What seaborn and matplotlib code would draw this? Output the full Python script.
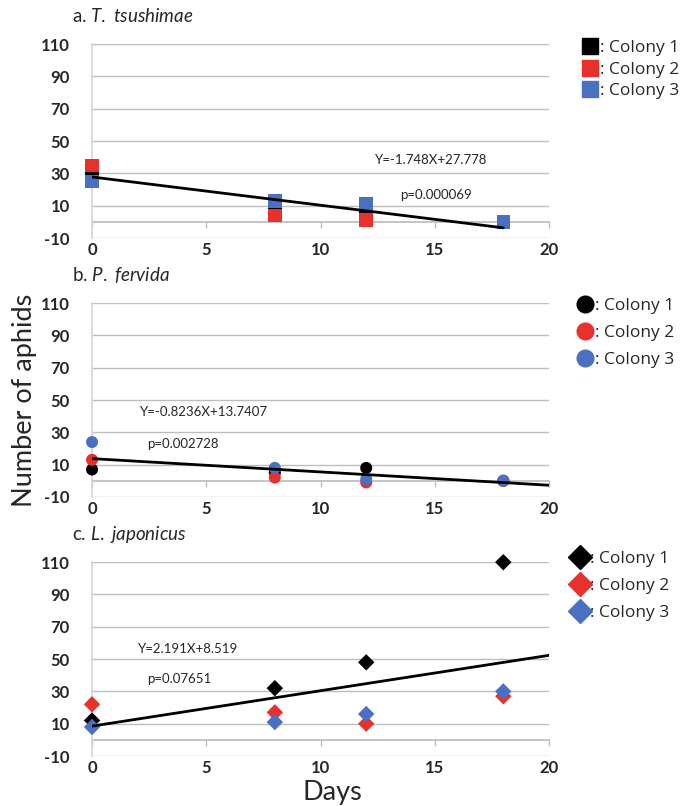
import numpy as np
import pandas as pd
import matplotlib.pyplot as plt
import seaborn as sns
from matplotlib.lines import Line2D

# data
days = [0, 8, 12, 18]
colonies = ['Colony 1', 'Colony 2', 'Colony 3']
colors = ['#000000', '#e8302c', '#4a70c2']

# a. T. tsushimae
tsu_c1 = [31, 9, 5, 0]
tsu_c2 = [35, 4, 1, 0]
tsu_c3 = [25, 13, 11, 0]
# b. P. fervida
fer_c1 = [7, 5, 8, 0]
fer_c2 = [13, 2, -1, 0]
fer_c3 = [24, 8, 1, 0]
# c. L. japonicus
jap_c1 = [12, 32, 48, 110]
jap_c2 = [22, 17, 10, 27]
jap_c3 = [8, 11, 16, 30]

panel_letters = ['a.', 'b.', 'c.']
species = ['T.\\ tsushimae', 'P.\\ fervida', 'L.\\ japonicus']
slopes = [-1.748, -0.8236, 2.191]
intercepts = [27.778, 13.7407, 8.519]
line_end = [18, 20, 20]
equations = ['Y=-1.748X+27.778', 'Y=-0.8236X+13.7407', 'Y=2.191X+8.519']
pvalues = ['p=0.000069', 'p=0.002728', 'p=0.07651']
eq_pos = [(12.4, 38), (2.1, 42.5), (2.0, 56.5)]
p_pos = [(13.5, 16.5), (2.4, 23), (2.4, 37.5)]

xticks = [0, 5, 10, 15, 20]
yticks = list(range(-10, 111, 20))

sns.set_theme(style='white')
plt.rcParams['font.family'] = ['Lato', 'DejaVu Sans']
plt.rcParams['mathtext.fontset'] = 'custom'
plt.rcParams['mathtext.it'] = 'Lato:italic'
plt.rcParams['mathtext.rm'] = 'Lato'

grid_col = '#bdbdbd'

fig = plt.figure(figsize=(6.93, 8.06), dpi=100)
bottoms = [0.7047, 0.3834, 0.0620]
panels = [
    (tsu_c1, tsu_c2, tsu_c3, 's', 95, 11),
    (fer_c1, fer_c2, fer_c3, 'o', 75, 12),
    (jap_c1, jap_c2, jap_c3, 'D', 70, 12.5),
]
legend_x = [1.068, 1.057, 1.046]
legend_y = [1.02, 1.025, 1.056]
label_space = [0.3, 0.6, 0.6]

for i, (c1, c2, c3, mk, size, leg_ms) in enumerate(panels):
    ax = fig.add_axes([0.1328, bottoms[i], 0.6594, 0.2405])
    df = pd.DataFrame({
        'Days': days * 3,
        'Aphids': c1 + c2 + c3,
        'Colony': [c for c in colonies for _ in days],
    })
    sns.scatterplot(data=df, x='Days', y='Aphids', hue='Colony',
                    palette=colors, marker=mk, s=size, edgecolor='none',
                    legend=False, clip_on=False, zorder=3, ax=ax)

    xl = np.array([0, line_end[i]])
    sns.lineplot(x=xl, y=slopes[i] * xl + intercepts[i], color='black',
                 linewidth=2, zorder=4, ax=ax)

    ax.set_xlim(0, 20)
    ax.set_ylim(-10, 110)
    ax.set_xticks(xticks)
    ax.set_yticks(yticks)
    ax.set_xticklabels([str(t) for t in xticks], fontweight='bold', fontsize=12)
    ax.set_yticklabels([str(t) for t in yticks], fontweight='bold', fontsize=12)
    ax.tick_params(axis='x', length=0, pad=3)
    ax.tick_params(axis='y', length=0, pad=16)
    ax.yaxis.grid(True, color=grid_col, linewidth=1)
    ax.xaxis.grid(False)
    for s in ['top', 'right', 'bottom']:
        ax.spines[s].set_visible(False)
    ax.spines['left'].set_color('#d6d6d6')
    ax.set_xlabel('')
    ax.set_ylabel('')

    # horizontal axis crossing at y = 0 with small tick marks
    sec = ax.secondary_xaxis(0, transform=ax.transData)
    sec.set_xticks(xticks)
    sec.set_xticklabels([])
    sec.tick_params(length=4, color=grid_col, direction='out', width=1)
    sec.spines['bottom'].set_color(grid_col)

    ax.text(eq_pos[i][0], eq_pos[i][1], equations[i], fontsize=9.5, va='center')
    ax.text(p_pos[i][0], p_pos[i][1], pvalues[i], fontsize=9.5, va='center')

    ax.text(-0.044, 1.145, panel_letters[i] + ' $\\it{' + species[i] + '}$',
            transform=ax.transAxes, fontsize=13.5, va='center', ha='left')

    handles = [Line2D([], [], marker=mk, ls='none', color=c, markersize=leg_ms)
               for c in colors]
    ax.legend(handles, [': ' + c for c in colonies], loc='upper left',
              bbox_to_anchor=(legend_x[i], legend_y[i]), frameon=False,
              prop={'family': 'Open Sans', 'size': 12.5},
              handletextpad=0.05, labelspacing=label_space[i],
              borderaxespad=0, handlelength=1.1, borderpad=0)

fig.text(0.036, 0.503, 'Number of aphids', rotation=90, fontsize=19.5,
         ha='center', va='center')
fig.text(0.48, 0.017, 'Days', fontsize=19.5, ha='center', va='center')

fig.savefig('out.png', dpi=100)
